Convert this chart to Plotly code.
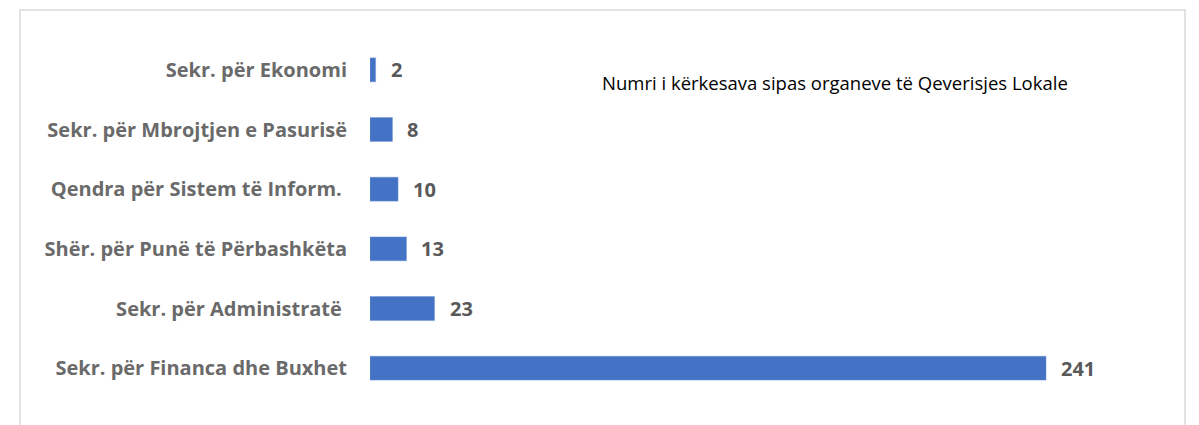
import plotly.graph_objects as go

categories = [
    "Sekr. për Financa dhe Buxhet",
    "Sekr. për Administratë ",
    "Shër. për Punë të Përbashkëta",
    "Qendra për Sistem të Inform. ",
    "Sekr. për Mbrojtjen e Pasurisë",
    "Sekr. për Ekonomi",
]
values = [241, 23, 13, 10, 8, 2]
title_text = "Numri i kërkesava sipas organeve të Qeverisjes Lokale"

O = 8  # page body offset
W, H = 1199 - O, 425 - O
L, R, T, B = 370 - O, 44, 40 - O, 27
pw = W - L - R
ph = H - T - B

def px_x(x):
    return (x - O - L) / pw

def px_y(y):
    return (H - B - (y - O)) / ph

FONT = "Open Sans"

fig = go.Figure()
fig.add_trace(go.Bar(
    x=values, y=categories, orientation="h",
    marker=dict(color="#4472C4", line=dict(color="#6f95d6", width=0.5)),
    hoverinfo="skip",
))

for v, c in zip(values, categories):
    fig.add_annotation(x=v, y=c, xref="x", yref="y", text=f"<b>{v}</b>",
                       showarrow=False, xanchor="left", xshift=13,
                       font=dict(family=FONT, size=20, color="#595959"))

fig.add_annotation(x=px_x(600), y=px_y(82), xref="paper", yref="paper",
                   text=title_text, showarrow=False, xanchor="left", yanchor="middle",
                   font=dict(family=FONT, size=18.5, color="#000000"))

fig.add_shape(type="rect", xref="paper", yref="paper",
              x0=px_x(20), x1=px_x(1185), y0=px_y(440), y1=px_y(10),
              line=dict(color="#d9d9d9", width=1.5), fillcolor="rgba(0,0,0,0)", layer="below")

fig.update_layout(
    width=W, height=H,
    margin=dict(l=L, r=R, t=T, b=B, pad=0),
    paper_bgcolor="white", plot_bgcolor="white",
    bargap=0.6, showlegend=False,
    xaxis=dict(range=[0, pw / 2.805], visible=False, fixedrange=True),
    yaxis=dict(showgrid=False, zeroline=False, showline=False, ticks="",
               ticklabelstandoff=22,
               tickfont=dict(family=FONT, size=20, color="#6a6a6a", weight="bold")),
    font=dict(family=FONT),
)

fig.write_html("out.html")
